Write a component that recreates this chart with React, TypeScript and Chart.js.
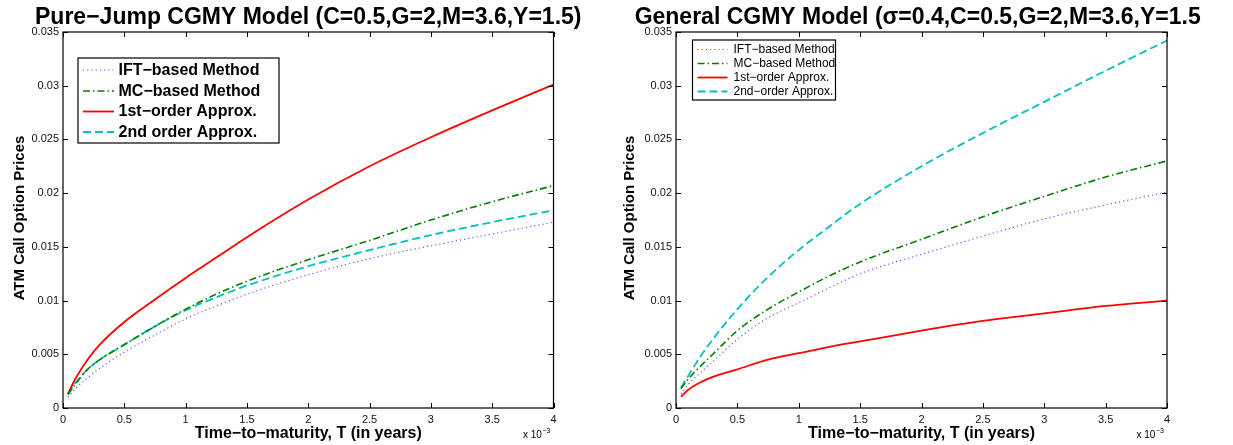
import React, { useEffect, useRef } from "react";
import { Chart, registerables } from "chart.js";

Chart.register(...registerables);

// ---------------- data ----------------
// time-to-maturity in units of 1e-3 years
const maturities = [0.04, 0.1, 0.2, 0.3, 0.5, 0.75, 1, 1.25, 1.5, 2, 2.5, 3, 3.5, 4];
const xTickValues = [0, 0.5, 1, 1.5, 2, 2.5, 3, 3.5, 4];
const yTickValues = [0, 0.005, 0.01, 0.015, 0.02, 0.025, 0.03, 0.035];

const leftTitle = "Pure\u2212Jump CGMY Model (C=0.5,G=2,M=3.6,Y=1.5)";
const rightTitle = "General CGMY Model (\u03c3=0.4,C=0.5,G=2,M=3.6,Y=1.5)";
const rightTitleVisible = "General CGMY Model (\u03c3=0.4,C=0.5,G=2,M=3.6,Y=1.5";
const xAxisTitle = "Time\u2212to\u2212maturity, T (in years)";
const yAxisTitle = "ATM Call Option Prices";

const leftNames = ["IFT\u2212based Method", "MC\u2212based Method", "1st\u2212order Approx.", "2nd order Approx."];
const rightNames = ["IFT\u2212based Method", "MC\u2212based Method", "1st\u2212order Approx.", "2nd\u2212order Approx."];

// Pure-jump CGMY
const leftIFT = [0.001, 0.0018, 0.0028, 0.0037, 0.0052, 0.0068, 0.0083, 0.0095, 0.0106, 0.0124, 0.0139, 0.0151, 0.0162, 0.0173];
const leftMC = [0.00124, 0.0022, 0.0036, 0.0045, 0.0059, 0.0076, 0.0092, 0.0106, 0.0118, 0.0138, 0.0156, 0.0175, 0.0192, 0.0207];
const leftFirst = [0.0013, 0.0027, 0.0045, 0.0059, 0.008, 0.0101, 0.0121, 0.014, 0.0159, 0.0194, 0.0225, 0.0252, 0.0277, 0.0301];
const leftSecond = [0.0013, 0.0023, 0.0036, 0.0045, 0.0059, 0.0076, 0.0091, 0.0103, 0.0114, 0.0132, 0.0147, 0.0161, 0.0173, 0.0184];

// General CGMY
const rightIFT = [0.0013, 0.0022, 0.0033, 0.0043, 0.0064, 0.0084, 0.0098, 0.0112, 0.0125, 0.0143, 0.016, 0.0176, 0.0189, 0.0201];
const rightMC = [0.0018, 0.0027, 0.0039, 0.005, 0.0072, 0.0092, 0.0108, 0.0123, 0.0136, 0.0157, 0.0178, 0.0197, 0.0215, 0.023];
const rightFirst = [0.00105, 0.0017, 0.0024, 0.0029, 0.0036, 0.0045, 0.0051, 0.0057, 0.0062, 0.0072, 0.0081, 0.0088, 0.0095, 0.01];
const rightSecond = [0.0019, 0.003, 0.0048, 0.0064, 0.0092, 0.0122, 0.0147, 0.0169, 0.019, 0.0225, 0.0256, 0.0285, 0.0314, 0.0342];

// ---------------- styles ----------------
const FONT = '"Liberation Sans", Arial, Helvetica, sans-serif';
const STYLES = [
  { color: "rgb(90,90,255)", width: 1.2, dash: [1.2, 3] },
  { color: "#008000", width: 1.6, dash: [7, 3, 1.5, 3] },
  { color: "#ff0000", width: 1.8, dash: [] as number[] },
  { color: "#00bfbf", width: 1.8, dash: [8, 4] },
];

type LegendSpec = {
  box: [number, number, number, number]; // x0, y0, x1, y1 (canvas coords)
  rows: number[];
  lineX0: number;
  lineX1: number;
  textX: number;
  font: string;
};

type Spec = {
  title: string;
  visibleTitle: string;
  names: string[];
  series: number[][];
  legend: LegendSpec;
  yTitleX: number;
  yAxisWidth: number;
  padRight: number;
  canvasWidth: number;
  canvasLeft: number;
};

const fmt = (v: number) => String(+(+v).toFixed(4));

function makeFramePlugin(spec: Spec) {
  return {
    id: "matlabFrame",
    afterDraw(chart: any) {
      const ctx: CanvasRenderingContext2D = chart.ctx;
      const { left, right, top, bottom } = chart.chartArea;
      const xs = chart.scales.x;
      const ys = chart.scales.y;
      ctx.save();
      // box
      ctx.strokeStyle = "#000";
      ctx.lineWidth = 1.2;
      ctx.setLineDash([]);
      ctx.strokeRect(left, top, right - left, bottom - top);
      // inward ticks
      const tl = 5;
      ctx.lineWidth = 1;
      ctx.beginPath();
      xTickValues.forEach((v) => {
        const px = Math.round(xs.getPixelForValue(v)) + 0.5;
        ctx.moveTo(px, bottom);
        ctx.lineTo(px, bottom - tl);
        ctx.moveTo(px, top);
        ctx.lineTo(px, top + tl);
      });
      yTickValues.forEach((v) => {
        const py = Math.round(ys.getPixelForValue(v)) + 0.5;
        ctx.moveTo(left, py);
        ctx.lineTo(left + tl, py);
        ctx.moveTo(right, py);
        ctx.lineTo(right - tl, py);
      });
      ctx.stroke();

      ctx.fillStyle = "#000";
      // title
      ctx.font = `bold 23px ${FONT}`;
      const cx = (left + right) / 2;
      const fullW = ctx.measureText(spec.title).width;
      ctx.textAlign = "left";
      ctx.textBaseline = "alphabetic";
      ctx.fillText(spec.visibleTitle, cx - fullW / 2, 24);

      // x axis title
      ctx.font = `bold 16px ${FONT}`;
      ctx.textAlign = "center";
      ctx.fillText(xAxisTitle, cx, 437.5);

      // exponent label
      ctx.font = `10px ${FONT}`;
      ctx.textAlign = "left";
      ctx.fillText("x 10", right - 30.5, 438);
      const w10 = ctx.measureText("x 10").width;
      ctx.font = `7px ${FONT}`;
      ctx.fillText("\u22123", right - 30.5 + w10 + 0.5, 433);

      // y axis title
      ctx.save();
      ctx.translate(spec.yTitleX, (top + bottom) / 2 - 2);
      ctx.rotate(-Math.PI / 2);
      ctx.font = `bold 15px ${FONT}`;
      ctx.textAlign = "center";
      ctx.textBaseline = "middle";
      ctx.fillText(yAxisTitle, 0, 0);
      ctx.restore();

      // legend
      const lg = spec.legend;
      const [bx0, by0, bx1, by1] = lg.box;
      ctx.fillStyle = "#fff";
      ctx.fillRect(bx0, by0, bx1 - bx0, by1 - by0);
      ctx.strokeStyle = "#000";
      ctx.lineWidth = 1.2;
      ctx.strokeRect(bx0, by0, bx1 - bx0, by1 - by0);
      spec.names.forEach((name, i) => {
        const st = STYLES[i];
        const y = lg.rows[i];
        ctx.beginPath();
        ctx.strokeStyle = st.color;
        ctx.lineWidth = st.width;
        ctx.setLineDash(st.dash);
        ctx.moveTo(lg.lineX0, y);
        ctx.lineTo(lg.lineX1, y);
        ctx.stroke();
        ctx.setLineDash([]);
        ctx.fillStyle = "#000";
        ctx.font = lg.font;
        ctx.textAlign = "left";
        ctx.textBaseline = "middle";
        ctx.fillText(name, lg.textX, y + 0.5);
      });
      ctx.restore();
    },
  };
}

function buildConfig(spec: Spec): any {
  const tickFont = { family: FONT, size: 11 };
  return {
    type: "line",
    data: {
      datasets: spec.series.map((vals, i) => ({
        label: spec.names[i],
        data: maturities.map((t, k) => ({ x: t, y: vals[k] })),
        borderColor: STYLES[i].color,
        borderWidth: STYLES[i].width,
        borderDash: STYLES[i].dash,
        backgroundColor: "transparent",
        pointRadius: 0,
        fill: false,
        cubicInterpolationMode: "monotone",
      })),
    },
    options: {
      animation: false,
      responsive: false,
      maintainAspectRatio: false,
      events: [],
      layout: { padding: { left: 0, right: spec.padRight, top: 32, bottom: 0 } },
      plugins: {
        legend: { display: false },
        title: { display: false },
        tooltip: { enabled: false },
      },
      scales: {
        x: {
          type: "linear",
          min: 0,
          max: 4,
          afterFit: (s: any) => {
            s.height = 37;
          },
          afterBuildTicks: (s: any) => {
            s.ticks = xTickValues.map((v) => ({ value: v }));
          },
          grid: { display: false, drawTicks: false },
          border: { display: false },
          ticks: {
            padding: 5,
            font: tickFont,
            color: "#111",
            maxRotation: 0,
            autoSkip: false,
            callback: (v: number) => fmt(v),
          },
        },
        y: {
          type: "linear",
          min: 0,
          max: 0.035,
          afterFit: (s: any) => {
            s.width = spec.yAxisWidth;
          },
          afterBuildTicks: (s: any) => {
            s.ticks = yTickValues.map((v) => ({ value: v }));
          },
          grid: { display: false, drawTicks: false },
          border: { display: false },
          ticks: {
            padding: 4,
            font: tickFont,
            color: "#111",
            autoSkip: false,
            callback: (v: number) => fmt(v),
          },
        },
      },
    },
    plugins: [makeFramePlugin(spec)],
  };
}

const leftSpec: Spec = {
  title: leftTitle,
  visibleTitle: leftTitle,
  names: leftNames,
  series: [leftIFT, leftMC, leftFirst, leftSecond],
  legend: {
    box: [78, 58, 279, 143],
    rows: [70, 91, 111.5, 132],
    lineX0: 83,
    lineX1: 114,
    textX: 118.5,
    font: `bold 16px ${FONT}`,
  },
  yTitleX: 20,
  yAxisWidth: 63,
  padRight: 62.5,
  canvasWidth: 616,
  canvasLeft: 0,
};

const rightSpec: Spec = {
  title: rightTitle,
  visibleTitle: rightTitleVisible,
  names: rightNames,
  series: [rightIFT, rightMC, rightFirst, rightSecond],
  legend: {
    box: [76.5, 40, 219.5, 100],
    rows: [49.5, 63.5, 77.5, 91.5],
    lineX0: 81.5,
    lineX1: 111.5,
    textX: 117.5,
    font: `12px ${FONT}`,
  },
  yTitleX: 14,
  yAxisWidth: 60,
  padRight: 66,
  canvasWidth: 617,
  canvasLeft: 616,
};

function Panel({ spec }: { spec: Spec }) {
  const ref = useRef<HTMLCanvasElement>(null);
  useEffect(() => {
    if (!ref.current) return;
    const chart = new Chart(ref.current, buildConfig(spec));
    return () => chart.destroy();
  }, [spec]);
  return (
    <canvas
      ref={ref}
      width={spec.canvasWidth}
      height={445}
      style={{
        position: "absolute",
        left: spec.canvasLeft,
        top: 0,
        width: spec.canvasWidth,
        height: 445,
      }}
    />
  );
}

export default function App() {
  return (
    <div
      style={{
        position: "absolute",
        left: 0,
        top: 0,
        width: 1233,
        height: 445,
        background: "#fff",
        overflow: "hidden",
      }}
    >
      <Panel spec={leftSpec} />
      <Panel spec={rightSpec} />
    </div>
  );
}
